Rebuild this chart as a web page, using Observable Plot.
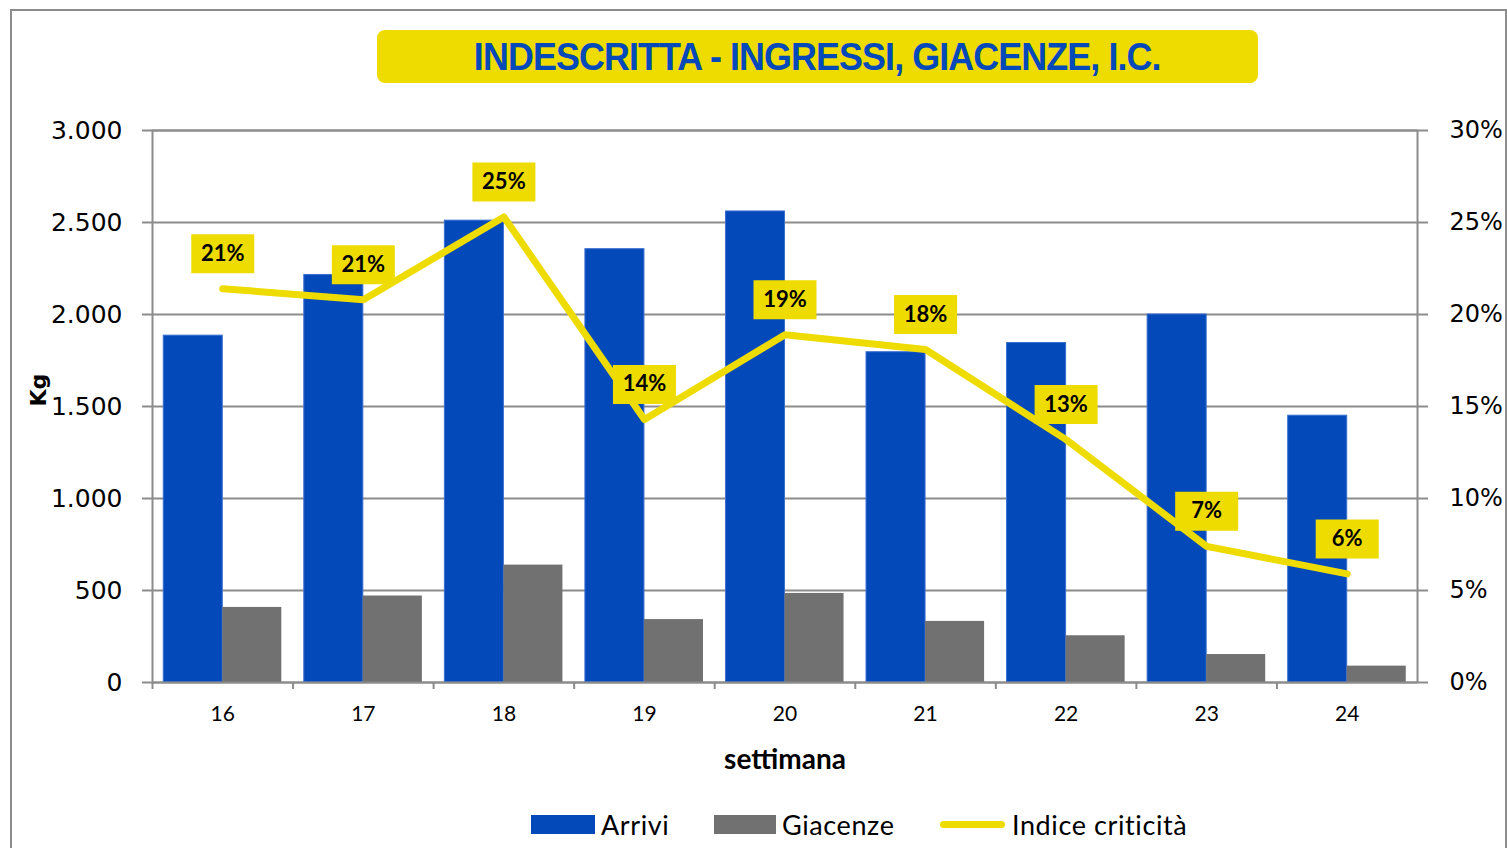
<!DOCTYPE html>
<html><head><meta charset="utf-8">
<script src="https://cdn.jsdelivr.net/npm/d3@7"></script>
<script src="https://cdn.jsdelivr.net/npm/@observablehq/plot@0.6"></script>
<style>
body{margin:0;background:#fff;width:1507px;height:848px;overflow:hidden;position:relative;font-family:Lato,sans-serif}
#frame{position:absolute;left:10px;top:9px;width:1497px;height:900px;border:2px solid #8c8c8c;box-sizing:border-box}
#title{position:absolute;left:377px;top:30px;width:881px;height:53px;background:#eedc00;border-radius:8px;text-align:center;overflow:hidden}
#title span{display:inline-block;color:#0349b9;font-family:"Liberation Sans",Arial,sans-serif;font-weight:bold;font-size:39px;line-height:54px;letter-spacing:-1px;transform:scaleX(0.92);transform-origin:center;white-space:nowrap}
#chart{position:absolute;left:0;top:0}
.item{position:absolute;top:811px;display:flex;align-items:center;height:26px;font-size:27px;letter-spacing:0.6px;color:#000;font-family:Lato,sans-serif}
.sw{display:inline-block;margin-right:6px}
</style>
</head><body>
<div id="frame"></div>
<div id="chart"></div>
<div id="title"><span>INDESCRITTA - INGRESSI, GIACENZE, I.C.</span></div>
<div class="item" style="left:531px"><span class="sw" style="width:64px;height:19px;background:#0349b9"></span>Arrivi</div>
<div class="item" style="left:714px"><span class="sw" style="width:62px;height:19px;background:#717171"></span>Giacenze</div>
<div class="item" style="left:940px"><span class="sw" style="width:65px;height:7px;border-radius:4px;background:#eedc00;margin-right:7px"></span>Indice criticità</div>
<script>
const weeks = ["16","17","18","19","20","21","22","23","24"];
const arrivi = [1885, 2215, 2510, 2355, 2560, 1795, 1845, 2000, 1450];
const giacenze = [408, 470, 638, 342, 484, 332, 254, 152, 89];
const indice = [21.4, 20.8, 25.3, 14.3, 18.9, 18.1, 13.2, 7.4, 5.9];
const yTicks = [0, 500, 1000, 1500, 2000, 2500, 3000];

const data = weeks.map((w, i) => ({week: w, arrivi: arrivi[i], giacenze: giacenze[i], ic: indice[i]}));

const W = 1507, H = 790, mL = 152, mR = 90, mT = 130, mB = 108;
const padIn = 0.16, padOut = 0.08;
const step = (W - mL - mR) / (weeks.length - padIn + 2 * padOut);
const bw = step * (1 - padIn);

const BLUE = "#0349b9", GRAY = "#717171", YEL = "#eedc00", GRID = "#8c8c8c";
const rectSymbol = {draw(ctx){ ctx.rect(-31.5, -19.5, 63, 39); }};
const fmtK = d => d3.format(",")(d).replace(/,/g, ".");

const plot = Plot.plot({
  width: W, height: H,
  marginLeft: mL, marginRight: mR, marginTop: mT, marginBottom: mB,
  style: {fontFamily: "Lato, sans-serif", background: "transparent", color: "#000"},
  x: {domain: weeks, paddingInner: padIn, paddingOuter: padOut, round: false, label: null},
  y: {domain: [0, 3000], label: null},
  marks: [
    Plot.gridY(yTicks, {stroke: GRID, strokeOpacity: 1, strokeWidth: 2}),
    Plot.barY(data, {x: "week", y: "arrivi", fill: BLUE, insetRight: bw / 2, stroke: "#3b6fd0", strokeWidth: 1}),
    Plot.barY(data, {x: "week", y: "giacenze", fill: GRAY, insetLeft: bw / 2}),
    Plot.frame({stroke: GRID, strokeWidth: 2}),
    Plot.axisY(yTicks, {anchor: "left", tickFormat: fmtK, tickSize: 10, tickPadding: 20, fontSize: 25, fontFamily: "DejaVu Sans", stroke: GRID, strokeWidth: 2, label: null}),
    Plot.axisY(yTicks, {anchor: "right", tickFormat: d => d / 100 + "%", tickSize: 10, tickPadding: 22, fontSize: 24, fontFamily: "DejaVu Sans", stroke: GRID, strokeWidth: 2, label: null}),
    Plot.axisX({tickSize: 7, tickFormat: () => "", dx: -step / 2, stroke: GRID, strokeWidth: 2, label: null}),
    Plot.axisX({tickSize: 0, tickPadding: 24, fontSize: 21, label: null}),
    Plot.text(["settimana"], {frameAnchor: "bottom", dy: 86, fontSize: 28, fontWeight: "bold", fill: "#000"}),
    Plot.text(["Kg"], {frameAnchor: "left", dx: -114, rotate: -90, fontSize: 22, fontWeight: "bold", fontFamily: "DejaVu Sans", fill: "#000"}),
    Plot.line(data, {x: "week", y: d => d.ic * 100, stroke: YEL, strokeWidth: 7, strokeLinecap: "round", strokeLinejoin: "round"}),
    Plot.dot(data, {x: "week", y: d => d.ic * 100, symbol: rectSymbol, fill: YEL, stroke: "none", dy: -35}),
    Plot.text(data, {x: "week", y: d => d.ic * 100, text: d => Math.round(d.ic) + "%", dy: -35, fontSize: 22, fontWeight: "bold", fill: "#000"})
  ]
});
document.getElementById("chart").appendChild(plot);
</script>
</body></html>
